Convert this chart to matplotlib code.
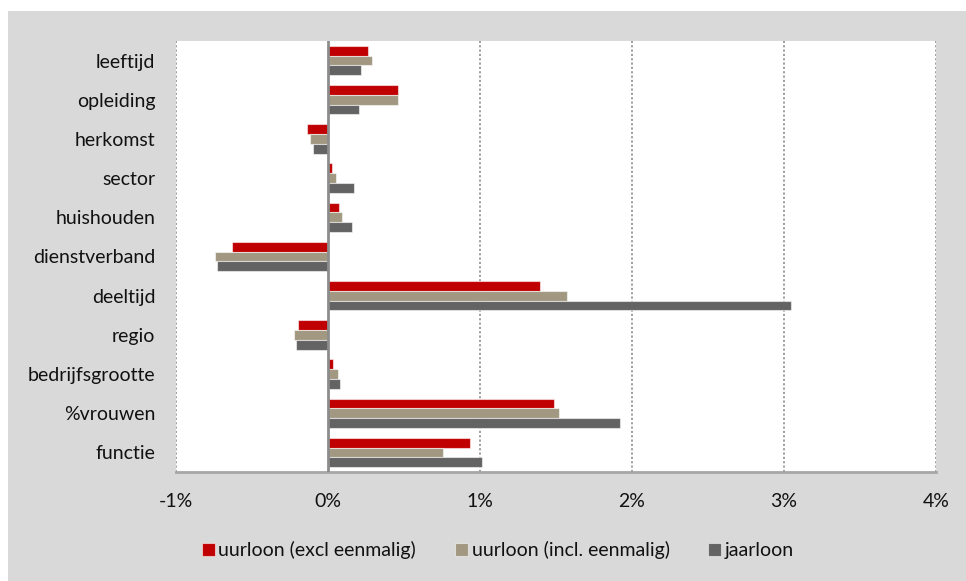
import matplotlib
matplotlib.use("Agg")
import matplotlib.pyplot as plt
from matplotlib.patches import Rectangle
import numpy as np

categories = ["leeftijd", "opleiding", "herkomst", "sector", "huishouden",
              "dienstverband", "deeltijd", "regio", "bedrijfsgrootte",
              "%vrouwen", "functie"]
series_names = ["uurloon (excl eenmalig)", "uurloon (incl. eenmalig)", "jaarloon"]
uurloon_excl = [0.265, 0.463, -0.136, 0.028, 0.074, -0.630, 1.395, -0.200, 0.035, 1.485, 0.936]
uurloon_incl = [0.290, 0.460, -0.116, 0.055, 0.092, -0.743, 1.575, -0.226, 0.064, 1.520, 0.759]
jaarloon     = [0.215, 0.204, -0.097, 0.169, 0.160, -0.732, 3.046, -0.213, 0.081, 1.923, 1.011]
x_ticks = [-1, 0, 1, 2, 3, 4]
x_tick_labels = ["-1%", "0%", "1%", "2%", "3%", "4%"]

colors = ["#C00000", "#A29882", "#636363"]
bg = "#D9D9D9"
txt = "#111111"
fs = 14

plt.rcParams["font.family"] = ["Lato", "DejaVu Sans"]

W, H = 966, 581
fig = plt.figure(figsize=(W / 100, H / 100), dpi=100)
fig.patch.set_facecolor("white")
fig.add_artist(Rectangle((8 / W, 0), 1 - 8 / W, 1 - 11 / H, transform=fig.transFigure,
                         facecolor=bg, edgecolor="none", zorder=0))

ax = fig.add_axes([176 / W, (H - 472) / H, 760 / W, 431 / H])
ax.set_facecolor("white")

n = len(categories)
pos = np.arange(n)
bh = 0.25
for i, (vals, c, name) in enumerate(zip([uurloon_excl, uurloon_incl, jaarloon], colors, series_names)):
    ax.barh(pos + (i - 1) * bh, vals, height=bh, color=c, label=name,
            edgecolor=(1, 1, 1, 0.55), linewidth=0.8, zorder=3)

ax.set_ylim(n - 0.5, -0.5)
ax.set_xlim(-1, 4)
ax.set_yticks(pos)
ax.set_yticklabels(categories, fontsize=fs, color=txt)
ax.set_xticks(x_ticks)
ax.set_xticklabels(x_tick_labels, fontsize=fs, color=txt)
ax.tick_params(axis="both", length=0)
ax.tick_params(axis="y", pad=15)
ax.tick_params(axis="x", pad=15)

for xv in x_ticks:
    if xv == 0:
        continue
    ax.axvline(xv, color="#999999", linestyle=(0, (1.2, 1.2)), linewidth=1.3, zorder=1)
ax.axvline(0, color="#8C8C8C", linewidth=2, zorder=4)

for s in ["top", "left", "right"]:
    ax.spines[s].set_visible(False)
ax.spines["bottom"].set_color("#A6A6A6")
ax.spines["bottom"].set_linewidth(2)

fig.legend(loc="center", bbox_to_anchor=(498 / W, (H - 550) / H), ncol=3,
           frameon=False, fontsize=fs, handlelength=0.65, handleheight=0.65,
           handletextpad=0.2, columnspacing=2.0, labelcolor=txt)

fig.savefig("out.png", dpi=100, facecolor=fig.get_facecolor())
